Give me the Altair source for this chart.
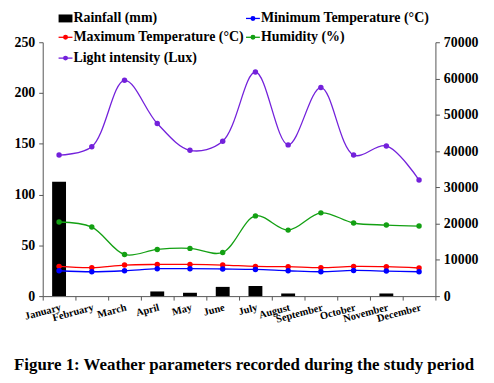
import altair as alt
import pandas as pd

months = ["January", "February", "March", "April", "May", "June", "July",
          "August", "September", "October", "November", "December"]
rainfall = [112.6, 0, 0, 4.6, 3.3, 9.1, 10.0, 2.6, 0, 0, 2.6, 0]
min_temp = [25.0, 24.0, 25.0, 27.0, 27.0, 26.7, 26.3, 25.0, 24.0, 25.3, 24.7, 24.0]
max_temp = [29.3, 28.0, 30.6, 31.2, 31.2, 30.6, 29.3, 29.0, 28.0, 29.3, 29.0, 27.7]
humidity = [73, 68, 41, 46, 47, 43, 79, 65, 82, 72, 70, 69]
light = [38900, 41200, 59500, 47600, 40200, 42700, 61800, 41700, 57500, 38900, 41400, 32000]

series_names = ["Rainfall (mm)", "Minimum Temperature (°C)", "Maximum Temperature (°C)",
                "Humidity (%)", "Light intensity (Lux)"]
colors = ["#000000", "#0000FF", "#FF0000", "#13A013", "#7321DB"]
caption = "Figure 1: Weather parameters recorded during the study period"

FONT = "Liberation Serif"
W, H = 396, 256

df = pd.DataFrame({"Month": months, "Rainfall": rainfall, "MinT": min_temp,
                   "MaxT": max_temp, "Humidity": humidity, "Light": light})

xenc = alt.X("Month:N", sort=months, title=None,
             scale=alt.Scale(paddingInner=0, paddingOuter=0),
             axis=alt.Axis(labelAngle=-15, labelFont=FONT, labelFontWeight="bold",
                           labelFontSize=10.5, labelColor="black", domainColor="#555",
                           tickColor="#555", tickBand="extent", tickSize=4,
                           labelAlign="right", labelBaseline="top", labelPadding=2))

yleft = alt.Scale(domain=[0, 250], nice=False)
yleft_axis = alt.Axis(values=[0, 50, 100, 150, 200, 250], labelFont=FONT,
                      labelFontWeight="bold", labelFontSize=14, labelColor="black",
                      domainColor="#555", tickColor="#555", tickSize=4, grid=False,
                      labelPadding=4)

base = alt.Chart(df)

bars = base.mark_bar(color="black", size=14).encode(
    x=xenc,
    y=alt.Y("Rainfall:Q", scale=yleft, axis=yleft_axis, title=None),
)

def line(field, color):
    return base.mark_line(color=color, strokeWidth=1.3, interpolate="catmull-rom",
                          point=alt.OverlayMarkDef(color=color, size=30, filled=True, opacity=1)).encode(
        x=alt.X("Month:N", sort=months),
        y=alt.Y(f"{field}:Q", scale=yleft, title=None),
    )

left = alt.layer(bars, line("MaxT", colors[2]), line("MinT", colors[1]),
                 line("Humidity", colors[3]))

right = base.mark_line(color=colors[4], strokeWidth=1.3, interpolate="catmull-rom",
                       point=alt.OverlayMarkDef(color=colors[4], size=30, filled=True, opacity=1)).encode(
    x=alt.X("Month:N", sort=months),
    y=alt.Y("Light:Q", scale=alt.Scale(domain=[0, 70000], nice=False), title=None,
            axis=alt.Axis(orient="right", values=list(range(0, 70001, 10000)), format="d",
                          labelFont=FONT, labelFontWeight="bold", labelFontSize=14,
                          labelColor="black", domainColor="#555", tickColor="#555",
                          tickSize=4, grid=False, labelPadding=4)),
)

# legend
legend_pos = [(16, -24), (205, -24), (16, -5), (205, -5), (16, 16)]
leg_layers = []
for i, (name, col) in enumerate(zip(series_names, colors)):
    lx, ly = legend_pos[i]
    if i == 0:
        leg_layers.append(alt.Chart(df.head(1)).mark_rect(color=col).encode(
            x=alt.value(lx), x2=alt.value(lx + 14), y=alt.value(ly - 4), y2=alt.value(ly + 4)))
    else:
        leg_layers.append(alt.Chart(df.head(1)).mark_rule(color=col, strokeWidth=1.3).encode(
            x=alt.value(lx), x2=alt.value(lx + 14), y=alt.value(ly)))
        leg_layers.append(alt.Chart(df.head(1)).mark_point(color=col, filled=True, size=25, opacity=1).encode(
            x=alt.value(lx + 7), y=alt.value(ly)))
    leg_layers.append(alt.Chart(df.head(1)).mark_text(
        text=name, font=FONT, fontWeight="bold", fontSize=14, align="left",
        baseline="middle", color="black").encode(x=alt.value(lx + 15), y=alt.value(ly)))

cap = alt.Chart(df.head(1)).mark_text(
    text=caption, font=FONT, fontWeight="bold", fontSize=17, align="center",
    baseline="middle", color="black").encode(x=alt.value(W / 2 + 5), y=alt.value(325))

chart = alt.layer(left, right, *leg_layers, cap).resolve_scale(y="independent").properties(
    width=W, height=H,
    autosize=alt.AutoSizeParams(type="none"),
    padding={"left": 35, "top": 33, "right": 51, "bottom": 78},
).configure_view(stroke=None, clip=False)

chart.save("out.html", embed_options={"renderer": "svg", "actions": False})
